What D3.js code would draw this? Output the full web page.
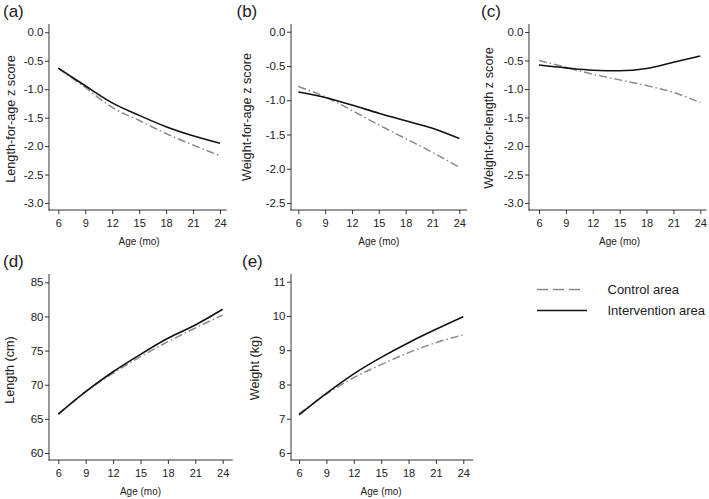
<!DOCTYPE html>
<html>
<head>
<meta charset="utf-8">
<script src="https://cdn.jsdelivr.net/npm/d3@7"></script>
<style>
  html, body { margin: 0; padding: 0; background: #fff; }
  svg { display: block; font-family: "Liberation Sans", Arial, Helvetica, sans-serif; }
</style>
</head>
<body>
<svg id="chart" width="709" height="499"></svg>
<script>
// ---- data ----
const ages = [6, 9, 12, 15, 18, 21, 24];
const xTicks = [6, 9, 12, 15, 18, 21, 24];

const lazControl      = [-0.63, -0.97, -1.32, -1.55, -1.78, -1.98, -2.17];
const lazIntervention = [-0.63, -0.94, -1.24, -1.46, -1.66, -1.82, -1.95];

const wazControl      = [-0.80, -0.95, -1.15, -1.36, -1.56, -1.76, -1.98];
const wazIntervention = [-0.88, -0.96, -1.07, -1.19, -1.30, -1.41, -1.56];

const wlzControl      = [-0.50, -0.62, -0.74, -0.84, -0.94, -1.06, -1.24];
const wlzIntervention = [-0.58, -0.63, -0.67, -0.68, -0.64, -0.53, -0.42];

const lengthControl      = [65.7, 69.0, 71.7, 74.1, 76.3, 78.3, 80.2];
const lengthIntervention = [65.7, 69.0, 71.9, 74.45, 76.8, 78.75, 81.05];

const weightControl      = [7.14, 7.72, 8.20, 8.58, 8.93, 9.22, 9.45];
const weightIntervention = [7.11, 7.74, 8.31, 8.79, 9.22, 9.61, 9.98];

const zTicks3  = [-3.0, -2.5, -2.0, -1.5, -1.0, -0.5, 0.0];
const zTicks25 = [-2.5, -2.0, -1.5, -1.0, -0.5, 0.0];
const lengthTicks = [60, 65, 70, 75, 80, 85];
const weightTicks = [6, 7, 8, 9, 10, 11];

const seriesNames = ["Control area", "Intervention area"];

// ---- layout ----
const panels = [
  { label: "(a)", title: "Length-for-age z score", ctrl: lazControl, intv: lazIntervention,
    yDomain: [-3, 0], yRange: [203, 32.3], yTicks: zTicks3, fmt: d => d.toFixed(1),
    axX: 49, axEnd: 226.7, xRange: [58.3, 220], top: 24, bot: 210,
    labX: 3, labY: 17, titleX: 11, titleY: 119 },
  { label: "(b)", title: "Weight-for-age z score", ctrl: wazControl, intv: wazIntervention,
    yDomain: [-2.5, 0], yRange: [203, 31.7], yTicks: zTicks25, fmt: d => d.toFixed(1),
    axX: 291, axEnd: 467, xRange: [298.3, 459.3], top: 24, bot: 210,
    labX: 236.5, labY: 17, titleX: 247, titleY: 117 },
  { label: "(c)", title: "Weight-for-length z score", ctrl: wlzControl, intv: wlzIntervention,
    yDomain: [-3, 0], yRange: [203, 32], yTicks: zTicks3, fmt: d => d.toFixed(1),
    axX: 529, axEnd: 706.7, xRange: [539, 700.3], top: 24, bot: 210,
    labX: 481, labY: 17, titleX: 488.5, titleY: 118 },
  { label: "(d)", title: "Length (cm)", ctrl: lengthControl, intv: lengthIntervention,
    yDomain: [60, 85], yRange: [453, 282.3], yTicks: lengthTicks, fmt: d => String(d),
    axX: 49, axEnd: 232.7, xRange: [58.3, 222.7], top: 274, bot: 460,
    labX: 3, labY: 267, titleX: 10, titleY: 370 },
  { label: "(e)", title: "Weight (kg)", ctrl: weightControl, intv: weightIntervention,
    yDomain: [6, 11], yRange: [453, 281.7], yTicks: weightTicks, fmt: d => String(d),
    axX: 291, axEnd: 473.3, xRange: [299, 463.3], top: 274, bot: 460,
    labX: 242, labY: 267, titleX: 255, titleY: 368 }
];

const svg = d3.select("#chart");
const AXIS_COLOR = "#333";
const TEXT_COLOR = "#222";
const CTRL_COLOR = "#8a8a8a";
const INTV_COLOR = "#111";
const CTRL_DASH = "8,3,1.5,3";

panels.forEach(p => {
  const g = svg.append("g");
  const x = d3.scaleLinear().domain([6, 24]).range(p.xRange);
  const y = d3.scaleLinear().domain(p.yDomain).range(p.yRange);

  // axis lines
  g.append("line").attr("x1", p.axX).attr("x2", p.axX).attr("y1", p.top).attr("y2", p.bot + 0.5)
    .attr("stroke", AXIS_COLOR).attr("stroke-width", 1);
  g.append("line").attr("x1", p.axX - 0.5).attr("x2", p.axEnd).attr("y1", p.bot).attr("y2", p.bot)
    .attr("stroke", AXIS_COLOR).attr("stroke-width", 1);

  // y axis
  const yAxis = d3.axisLeft(y).tickValues(p.yTicks).tickFormat(p.fmt).tickSize(4).tickPadding(1.5);
  const ya = g.append("g").attr("transform", `translate(${p.axX},0)`).call(yAxis);
  ya.select(".domain").remove();
  ya.selectAll("line").attr("stroke", AXIS_COLOR);
  ya.selectAll("text").attr("fill", TEXT_COLOR).style("font-size", "11.5px");

  // x axis
  const xAxis = d3.axisBottom(x).tickValues(xTicks).tickFormat(d => String(d)).tickSize(4).tickPadding(5.5);
  const xa = g.append("g").attr("transform", `translate(0,${p.bot})`).call(xAxis);
  xa.select(".domain").remove();
  xa.selectAll("line").attr("stroke", AXIS_COLOR);
  xa.selectAll("text").attr("fill", TEXT_COLOR).style("font-size", "11px");

  // x title
  g.append("text").attr("x", (p.xRange[0] + p.xRange[1]) / 2).attr("y", p.bot + 35)
    .attr("text-anchor", "middle").attr("fill", TEXT_COLOR).style("font-size", "10px")
    .text("Age (mo)");

  // y title
  g.append("text")
    .attr("transform", `translate(${p.titleX},${p.titleY}) rotate(-90)`)
    .attr("text-anchor", "middle").attr("dy", "0.35em")
    .attr("fill", TEXT_COLOR).style("font-size", "12.7px")
    .text(p.title);

  // panel label
  g.append("text").attr("x", p.labX).attr("y", p.labY)
    .attr("fill", TEXT_COLOR).style("font-size", "17px").text(p.label);

  const line = d3.line().x((d, i) => x(ages[i])).y(d => y(d)).curve(d3.curveMonotoneX);

  g.append("path").datum(p.ctrl).attr("d", line)
    .attr("fill", "none").attr("stroke", CTRL_COLOR).attr("stroke-width", 1.5)
    .attr("stroke-dasharray", CTRL_DASH);
  g.append("path").datum(p.intv).attr("d", line)
    .attr("fill", "none").attr("stroke", INTV_COLOR).attr("stroke-width", 1.6);
});

// legend
const legend = svg.append("g");
const legendItems = [
  { name: seriesNames[0], color: CTRL_COLOR, dash: "11,5", x2: 581, y: 289.5, w: 1.5 },
  { name: seriesNames[1], color: INTV_COLOR, dash: null, x2: 587, y: 310.5, w: 1.6 }
];
legendItems.forEach(it => {
  legend.append("line").attr("x1", 537).attr("x2", it.x2).attr("y1", it.y).attr("y2", it.y)
    .attr("stroke", it.color).attr("stroke-width", it.w)
    .attr("stroke-dasharray", it.dash);
  legend.append("text").attr("x", 607.5).attr("y", it.y).attr("dy", "0.35em")
    .attr("fill", TEXT_COLOR).style("font-size", "13px").text(it.name);
});
</script>
</body>
</html>
